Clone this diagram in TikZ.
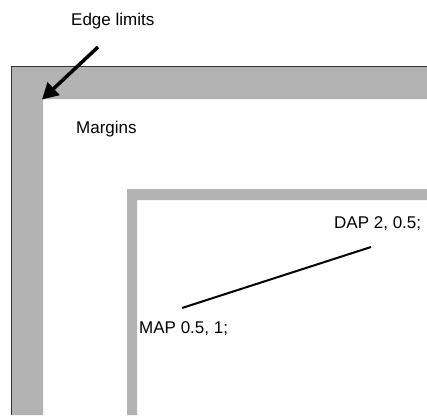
\documentclass[tikz,border=0pt]{standalone}
\usepackage{fontspec}
\setmainfont{Liberation Sans}
\usetikzlibrary{arrows.meta}
\definecolor{bandgray}{RGB}{179,179,179}
\begin{document}
\begin{tikzpicture}[x=1pt,y=-1pt,
  lbl/.style={anchor=base west,inner sep=0pt,font=\fontsize{17}{20}\selectfont},
  band/.style={fill=bandgray,draw=none}]
\useasboundingbox (0,0) rectangle (427,415);
\fill[white] (0,0) rectangle (427,415);
% outer band
\path[band] (11,415) -- (11,66) -- (427,66) -- (427,99) -- (43,99) -- (43,415) -- cycle;
\draw[line width=1pt,black!80] (11,415) -- (11,66) -- (427,66);
% inner band
\path[band] (127,415) -- (127,189) -- (427,189) -- (427,200) -- (137,200) -- (137,415) -- cycle;
% labels
\node[lbl] (edge) at (71,25) {Edge limits};
\node[lbl] (margins) at (76,133) {Margins};
\node[lbl] (dap) at (334,228) {DAP 2, 0.5;};
\node[lbl] (map) at (139,333) {MAP 0.5, 1;};
% arrow
\coordinate (astart) at (98,47);
\coordinate (corner) at (42,99.5);
\draw[line width=3.5pt,-{Triangle[length=16pt,width=17pt]}] (astart) -- (corner);
% connector
\coordinate (mapend) at (182,308);
\coordinate (dapend) at (371,247);
\draw[line width=2pt] (mapend) -- (dapend);
\end{tikzpicture}
\end{document}
